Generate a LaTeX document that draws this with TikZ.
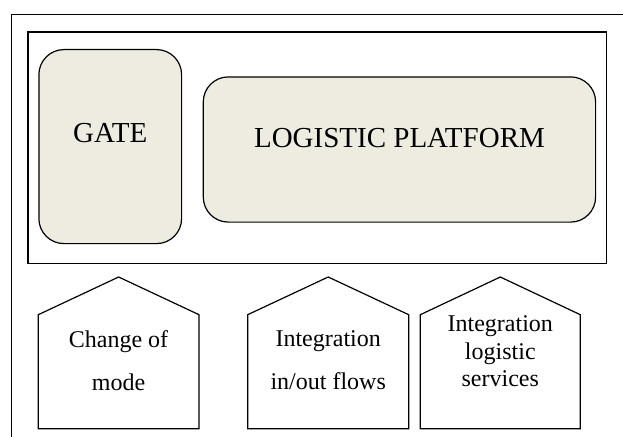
\documentclass[tikz,border=0pt]{standalone}
\usepackage{fontspec}
\setmainfont{Liberation Serif}
\usetikzlibrary{positioning}
\definecolor{boxfill}{HTML}{EEECE1}
\tikzset{
    frame/.style={draw, line width=1.5pt},
    platform/.style={draw, fill=boxfill, line width=1.2pt, inner sep=0pt, rounded corners=25pt},
    bigtext/.style={font=\fontsize{29}{34}\selectfont},
    house/.style={draw, line width=1.2pt, line join=miter},
    houselabel/.style={align=center, inner sep=0pt},
}
\begin{document}
\begin{tikzpicture}[x=1pt, y=-1pt]
    \useasboundingbox (0,0) rectangle (623,436);
    \clip (0,0) rectangle (623,436);

    % outer frame, runs off the page on the right and at the bottom
    \draw[frame] (11.7,14.7) rectangle (660,480);
    \node[draw, line width=1.3pt, anchor=north west, minimum width=578.7pt, minimum height=231.7pt] (inner) at (27.3,31.3) {};

    % rounded boxes
    \node[platform, anchor=north west, minimum width=142.7pt, minimum height=194pt] (gate) at (38.3,49) {};
    \node[platform, anchor=north west, minimum width=392.3pt, minimum height=145.2pt] (lp) at (202.7,76.3) {};
    \node[bigtext] (gatetext) at ([yshift=13.3pt]gate.center) {GATE};
    \node[bigtext] (lptext) at ([yshift=11pt]lp.center) {LOGISTIC PLATFORM};

    % houses
    \foreach \xl/\xr in {38.3/199, 247.7/408.7, 420.3/580.3}
        \draw[house] (\xl,428.7) -- (\xl,314.7) -- ({(\xl+\xr)/2},277) -- (\xr,314.7) -- (\xr,428.7) -- cycle;

    \node[houselabel, font=\fontsize{24}{43}\selectfont] (mode) at (118.5,360.5) {Change of\\mode};
    \node[houselabel, font=\fontsize{24}{43}\selectfont] (flows) at (328.2,360) {Integration\\in/out flows};
    \node[houselabel, font=\fontsize{24}{27.2}\selectfont] (services) at (500.3,351.2) {Integration\\logistic\\services};
\end{tikzpicture}
\end{document}
